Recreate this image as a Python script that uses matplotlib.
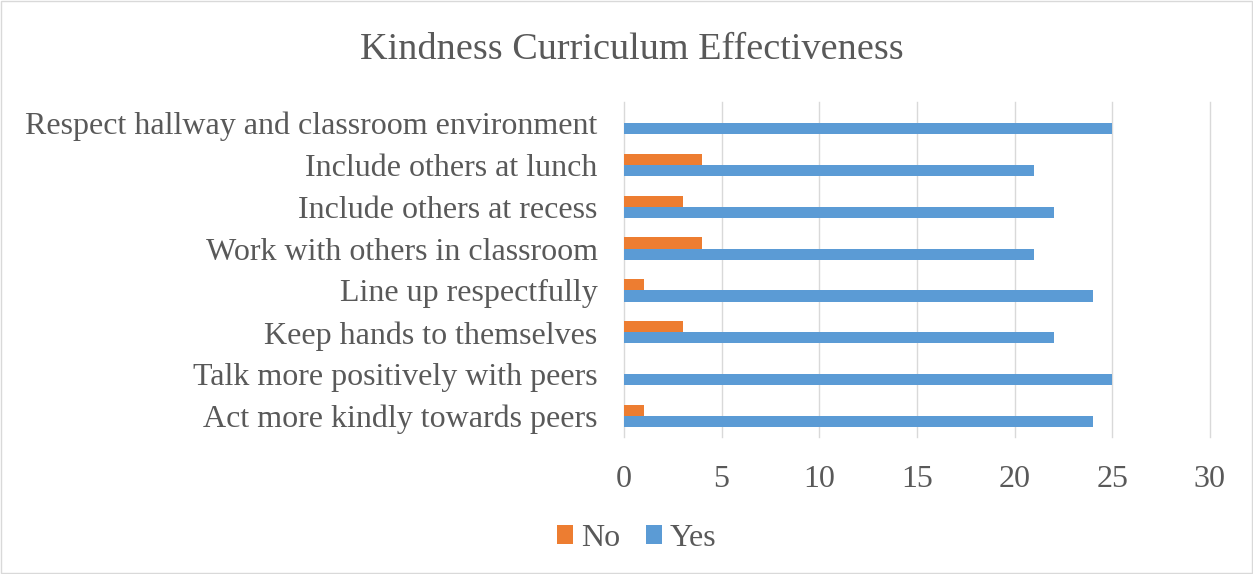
import matplotlib
matplotlib.use("Agg")
import matplotlib.pyplot as plt
import numpy as np

# survey items, bottom to top as drawn
categories = ["Act more kindly towards peers", "Talk more positively with peers",
              "Keep hands to themselves", "Line up respectfully",
              "Work with others in classroom", "Include others at recess",
              "Include others at lunch", "Respect hallway and classroom environment"]
yes_vals = [24, 25, 22, 24, 21, 22, 21, 25]
no_vals = [1, 0, 3, 1, 4, 3, 4, 0]
x_ticks = [0, 5, 10, 15, 20, 25, 30]

BLUE = "#5B9BD5"
ORANGE = "#ED7D31"
TEXT = "#595959"

plt.rcParams['font.family'] = ['Liberation Serif', 'DejaVu Serif']

fig = plt.figure(figsize=(12.53, 5.74), dpi=100)
ax = fig.add_axes([0.498, 0.2387, 0.4675, 0.5836])

y = np.arange(len(categories))
h = 0.265
ax.barh(y - h / 2, yes_vals, height=h, color=BLUE, label="Yes", zorder=3)
ax.barh(y + h / 2, no_vals, height=h, color=ORANGE, label="No", zorder=3)

ax.set_xlim(0, 30)
ax.set_ylim(-0.5, len(categories) - 0.5)
ax.set_xticks(x_ticks)
ax.set_yticks(y)
ax.set_yticklabels(categories)
ax.grid(axis='x', color='#d9d9d9', linewidth=1, zorder=0)
for gl in ax.get_xgridlines():
    gl.set_clip_on(False)
for s in ax.spines.values():
    s.set_visible(False)
ax.tick_params(length=0, labelsize=23, colors=TEXT)
ax.tick_params(axis='y', pad=19)
ax.tick_params(axis='x', pad=20)

fig.suptitle("Kindness Curriculum Effectiveness", x=0.504, y=0.943, fontsize=27.5, color=TEXT)

handles, labels = ax.get_legend_handles_labels()
leg = fig.legend(handles[::-1], labels[::-1], loc='center', bbox_to_anchor=(0.508, 0.062), ncol=2,
                 frameon=False, fontsize=23, handlelength=0.5, handleheight=0.5,
                 handletextpad=0.25, columnspacing=0.8)
for t in leg.get_texts():
    t.set_color(TEXT)

fig.patches.append(plt.Rectangle((0.001, 0.002), 0.998, 0.996, transform=fig.transFigure,
                                 fill=False, edgecolor='#d9d9d9', linewidth=1))

fig.savefig("out.png", dpi=100)
